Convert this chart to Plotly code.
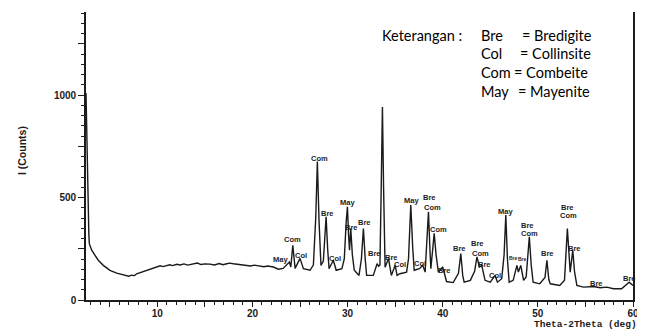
import plotly.graph_objects as go

# ---- data (2-theta in degrees, intensity in counts) ----
two_theta = [
    2.5, 2.58, 2.64, 2.72, 2.8, 2.85, 3.1, 3.45, 3.79, 4.32, 5.02, 5.73, 6.2, 6.5, 6.78, 7.0,
    7.3, 7.6, 7.83, 8.2, 8.5, 8.88, 9.2, 9.6, 9.93, 10.3, 10.6, 10.99, 11.3, 11.6, 12.04, 12.4,
    12.8, 13.2, 13.78, 14.2, 14.6, 15.0, 15.54, 16.0, 16.5, 16.9, 17.29, 17.6, 17.99, 18.4, 18.8,
    19.4, 19.8, 20.2, 20.8, 21.2, 21.6, 22.2, 22.72, 23.22, 23.88, 24.03, 24.24, 24.48, 25.0,
    25.35, 26.05, 26.4, 26.65, 26.82, 27.0, 27.2, 27.45, 27.6, 27.74, 27.9, 28.05, 28.5, 28.8,
    29.4, 29.65, 29.85, 29.98, 30.1, 30.2, 30.33, 30.5, 30.7, 31.2, 31.45, 31.66, 31.85, 32.0,
    32.7, 33.1, 33.25, 33.4, 33.55, 33.66, 33.78, 33.94, 34.3, 34.6, 35.0, 35.2, 35.5, 36.2,
    36.4, 36.64, 36.85, 37.0, 37.55, 37.9, 38.15, 38.35, 38.5, 38.65, 38.75, 38.95, 39.1, 39.3,
    39.54, 40.0, 40.4, 41.1, 41.65, 41.9, 42.1, 42.25, 42.9, 43.35, 43.6, 43.85, 44.1, 44.45,
    45.0, 45.5, 45.75, 46.2, 46.45, 46.63, 46.8, 46.98, 47.4, 47.8, 47.95, 48.2, 48.5, 48.77,
    48.95, 49.1, 49.3, 49.5, 50.2, 50.75, 50.95, 51.15, 51.3, 52.3, 52.8, 53.1, 53.4, 53.67,
    53.85, 54.1, 54.8, 55.85, 56.55, 57.25, 57.95, 58.8, 59.6, 60.0,
]
counts = [
    1010, 800, 600, 400, 320, 275, 243, 218, 194, 169, 145, 131, 126, 122, 120, 116,
    121, 119, 128, 134, 138, 145, 152, 158, 164, 167, 163, 169, 172, 168, 174, 171,
    176, 170, 177, 180, 173, 176, 175, 171, 178, 172, 177, 180, 177, 174, 171,
    169, 166, 170, 164, 162, 166, 161, 150, 154, 185, 161, 267, 154, 203,
    153, 145, 170, 400, 675, 380, 169, 190, 300, 406, 250, 153, 194, 145,
    153, 200, 380, 455, 320, 243, 349, 220, 145, 120, 200, 349, 200, 120,
    120, 177, 165, 170, 600, 942, 550, 160, 202, 120, 169, 120, 128, 136,
    200, 463, 250, 145, 153, 169, 136, 300, 430, 250, 153, 250, 325, 220,
    136, 161, 90, 85, 130, 226, 120, 87, 96, 140, 210, 161, 169, 96,
    87, 120, 87, 104, 220, 414, 200, 87, 96, 169, 136, 169, 96, 112,
    200, 308, 170, 87, 79, 110, 194, 100, 79, 71, 96, 349, 136, 243,
    140, 71, 63, 66, 60, 63, 55, 55, 87, 71,
]

# phase labels placed above the peaks
label_text = ["May", "Com", "Col", "Com", "Bre", "Col", "May", "Bre", "Bre", "Bre", "Bre",
              "Col", "May", "Bre", "Com", "Col", "Com", "Bre", "Bre", "Bre", "Com", "Bre",
              "Col", "May", "Bre", "Com", "Bre", "Bre", "Com", "Bre", "Bre", "Bre"]
label_x = [22.9, 24.16, 25.11, 27.0, 27.84, 28.68, 29.94, 30.37, 31.73, 32.78, 34.57,
           35.52, 36.67, 38.57, 38.88, 37.62, 39.51, 40.14, 41.72, 43.61, 43.93, 44.35,
           45.51, 46.56, 48.87, 49.08, 50.97, 53.08, 53.18, 53.81, 56.12, 59.6]
label_y = [199, 297, 218, 689, 424, 203, 478, 355, 380, 228, 208,
           174, 483, 498, 449, 179, 346, 145, 252, 277, 228, 174,
           120, 434, 365, 326, 228, 453, 414, 252, 81, 105]
small_label_text = ["Bre", "Bre"]
small_label_x = [47.4, 48.35]
small_label_y = [203, 199]

legend_abbr = ["Bre", "Col", "Com", "May"]
legend_name = ["= Bredigite", "= Collinsite", "= Combeite", "= Mayenite"]

x_tick_vals = [5, 10, 15, 20, 25, 30, 35, 40, 45, 50, 55, 60]
x_tick_text = ["", "10", "", "20", "", "30", "", "40", "", "50", "", "60"]
y_tick_vals = [0, 250, 500, 750, 1000, 1250]
y_tick_text = ["0", "", "500", "", "1000", ""]

fig = go.Figure()
fig.add_trace(go.Scatter(x=two_theta, y=counts, mode="lines",
                         line=dict(color="#1a1a1a", width=1.4), hoverinfo="skip"))

annotations = []
for t, x, y in zip(label_text, label_x, label_y):
    annotations.append(dict(x=x, y=y, xref="x", yref="y", text=t, showarrow=False,
                            font=dict(family="Liberation Sans", size=7.5, color="#1c1c1c", weight="bold"),
                            xanchor="center", yanchor="middle"))
for t, x, y in zip(small_label_text, small_label_x, small_label_y):
    annotations.append(dict(x=x, y=y, xref="x", yref="y", text=t, showarrow=False,
                            font=dict(family="Liberation Sans", size=5, color="#1c1c1c", weight="bold"),
                            xanchor="center", yanchor="middle"))

legend_rows_y = [0.920, 0.857, 0.791, 0.723]
eq_x = [0.793, 0.790, 0.778, 0.787]
leg_font = dict(family="Lato", size=14.5, color="#000000")
annotations.append(dict(x=0.538, y=legend_rows_y[0], xref="paper", yref="paper", text="Keterangan :",
                        showarrow=False, xanchor="left", yanchor="middle", font=leg_font))
for i, (a, n) in enumerate(zip(legend_abbr, legend_name)):
    annotations.append(dict(x=0.718, y=legend_rows_y[i], xref="paper", yref="paper", text=a,
                            showarrow=False, xanchor="left", yanchor="middle", font=leg_font))
    annotations.append(dict(x=eq_x[i], y=legend_rows_y[i], xref="paper", yref="paper", text=n,
                            showarrow=False, xanchor="left", yanchor="middle", font=leg_font))

annotations.append(dict(x=-0.117, y=0.517, xref="paper", yref="paper", text="I (Counts)",
                        textangle=-90, showarrow=False, xanchor="center", yanchor="middle",
                        font=dict(family="Liberation Sans", size=10.5, color="#1c1c1c", weight="bold")))
annotations.append(dict(x=0.913, y=-0.086, xref="paper", yref="paper", text="Theta-2Theta (deg)",
                        showarrow=False, xanchor="center", yanchor="middle",
                        font=dict(family="Liberation Mono", size=9.5, color="#1c1c1c", weight="bold")))

# the page body adds an 8 px offset, so the figure is sized to fit the 645x330 window
fig.update_layout(
    width=637, height=322,
    margin=dict(l=78, r=12, t=4, b=30, autoexpand=False),
    paper_bgcolor="white", plot_bgcolor="white",
    showlegend=False,
    annotations=annotations,
    xaxis=dict(range=[2.5, 60], tickmode="array", tickvals=x_tick_vals, ticktext=x_tick_text,
               automargin=False, ticklabelstandoff=-2,
               ticks="outside", ticklen=5, tickwidth=1.2, tickcolor="#1c1c1c",
               minor=dict(dtick=1, tick0=0, ticks="outside", ticklen=3, tickwidth=1.1, tickcolor="#1c1c1c"),
               showline=True, linecolor="#1c1c1c", linewidth=1.6, showgrid=False, zeroline=False,
               tickfont=dict(family="Liberation Sans", size=10, color="#1c1c1c", weight="bold")),
    yaxis=dict(range=[0, 1405], tickmode="array", tickvals=y_tick_vals, ticktext=y_tick_text,
               automargin=False,
               ticks="outside", ticklen=6, tickwidth=1.2, tickcolor="#1c1c1c",
               minor=dict(dtick=50, tick0=0, ticks="outside", ticklen=3, tickwidth=1.1, tickcolor="#1c1c1c"),
               showline=True, mirror=True, linecolor="#1c1c1c", linewidth=1.6,
               showgrid=False, zeroline=False,
               tickfont=dict(family="Liberation Sans", size=10, color="#1c1c1c", weight="bold")),
)

fig.write_html("out.html")
